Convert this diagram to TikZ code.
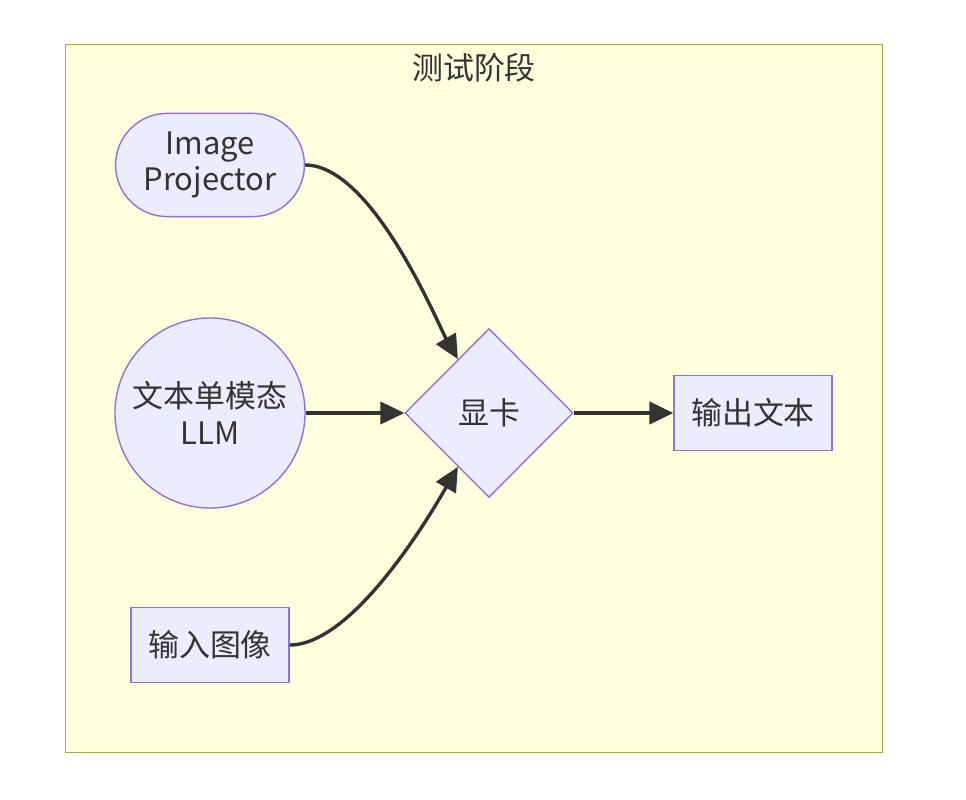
\documentclass[tikz,border=0pt]{standalone}
\usepackage{fontspec}
\setmainfont{Noto Sans CJK SC}
\usetikzlibrary{shapes.geometric,shapes.misc,arrows.meta}
\definecolor{nodefill}{HTML}{ECECFF}
\definecolor{nodeline}{HTML}{9370DB}
\definecolor{clusterfill}{HTML}{FFFFDE}
\definecolor{clusterline}{HTML}{AAAA33}
\definecolor{edgecol}{HTML}{333333}

\begin{document}
\begin{tikzpicture}
		[x=0.025cm,y=-0.025cm,every node/.style={draw=nodeline,fill=nodefill,line width=1pt,text=edgecol,font=\fontsize{22}{26}\selectfont,align=center,inner sep=0pt},edge/.style={-{Triangle[length=0.6cm,width=0.56cm]},draw=edgecol,line width=2.4pt},box/.style={rectangle,minimum width=3.95cm,minimum height=1.88cm}]
		\fill[white] (0,0) rectangle (966,800);
		\draw[fill=clusterfill,draw=clusterline,line width=0.7pt] (65,44) rectangle (882,752);
		\node[draw=none,fill=none] (title) at (474,68) {测试阶段};
		\node[rounded rectangle,minimum width=4.72cm,minimum height=2.58cm] (proj) at (210,165) {Image\\Projector};
		\node[circle,minimum size=4.75cm] (llm) at (210,413) {文本单模态\\LLM};
		\node[box] (img) at (210,645) {输入图像};
		\node[diamond,aspect=1,minimum width=4.2cm,minimum height=4.22cm] (gpu) at (489,413) {显卡};
		\node[box] (out) at (753,413) {输出文本};
		
		\draw[edge] (proj.east) to[out=0,in=120,out looseness=0.7,in looseness=0.4] (gpu.120);
		\draw[edge] (img.east) to[out=0,in=240,out looseness=0.7,in looseness=0.4] (gpu.240);
		\foreach \from/\to in {llm/gpu,gpu/out}
		\draw[edge] (\from) -- (\to);
		\end{tikzpicture}
\end{document}
